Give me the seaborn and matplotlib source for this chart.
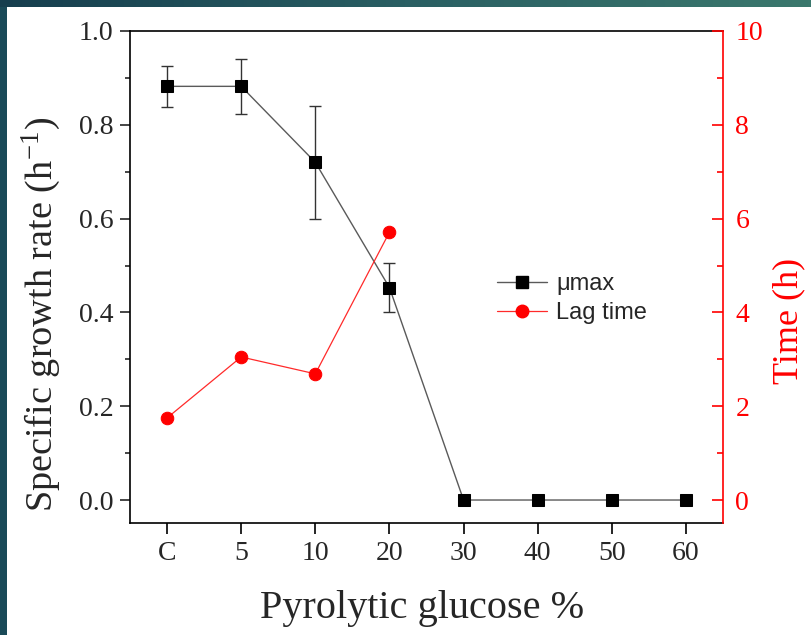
import numpy as np
import pandas as pd
import matplotlib
matplotlib.use("Agg")
import matplotlib.pyplot as plt
import seaborn as sns
from matplotlib.lines import Line2D
from matplotlib.colors import LinearSegmentedColormap

# ---- data ----
categories = ["C", "5", "10", "20", "30", "40", "50", "60"]
mu_max = [0.882, 0.882, 0.720, 0.453, 0.0, 0.0, 0.0, 0.0]
mu_err = [0.043, 0.059, 0.121, 0.053, 0.0, 0.0, 0.0, 0.0]
lag_categories = ["C", "5", "10", "20"]
lag_time = [1.75, 3.05, 2.69, 5.71]
left_ticks = [0.0, 0.2, 0.4, 0.6, 0.8, 1.0]
right_ticks = [0, 2, 4, 6, 8, 10]

sns.set_style("ticks")
plt.rcParams['font.family'] = ['Liberation Serif', 'DejaVu Serif']
plt.rcParams['mathtext.fontset'] = 'stix'

W, H = 811, 635
fig = plt.figure(figsize=(W / 100, H / 100), dpi=100)
fig.patch.set_facecolor("white")

# decorative frame strips
cmap = LinearSegmentedColormap.from_list("teal", ["#163e4e", "#2a5f63", "#3b786d"])
top = fig.add_axes([0, 1 - 7 / H, 1, 7 / H])
top.imshow(np.linspace(0, 1, 256)[None, :], aspect="auto", cmap=cmap)
top.set_axis_off()
left = fig.add_axes([0, 0, 7 / W, 1 - 7 / H])
left.set_facecolor("#1a4a58")
left.set_xticks([]); left.set_yticks([])
for s in left.spines.values():
    s.set_visible(False)

ax = fig.add_axes([130 / W, 1 - 523 / H, 593 / W, 492 / H])
ax2 = ax.twinx()

pos = list(range(len(categories)))
df_mu = pd.DataFrame({"pos": pos, "mu": mu_max, "err": mu_err})
df_lag = pd.DataFrame({"pos": list(range(len(lag_categories))), "lag": lag_time})

e = df_mu[df_mu.err > 0]
ax.errorbar(e.pos, e.mu, yerr=e.err, fmt="none", ecolor="#333333",
            elinewidth=1.0, capsize=4, capthick=1.0, zorder=2)
sns.lineplot(data=df_mu, x="pos", y="mu", ax=ax, color="#5a5a5a", linewidth=1.0,
             marker="s", markersize=8, markerfacecolor="black",
             markeredgecolor="black", zorder=3)
sns.lineplot(data=df_lag, x="pos", y="lag", ax=ax2, color="#ff2a2a", linewidth=0.9,
             marker="o", markersize=9, markerfacecolor="#ff0000",
             markeredgecolor="#ff0000", zorder=3)

ax.set_xlim(-0.5, 7.5)
ax.set_ylim(-0.049, 1.0)
ax2.set_ylim(-0.49, 10)
ax.set_xticks(pos)
ax.set_xticklabels(categories)
ax.set_yticks(left_ticks)
ax.set_yticklabels([f"{v:.1f}" for v in left_ticks])
ax.set_yticks([0.1, 0.3, 0.5, 0.7, 0.9], minor=True)
ax2.set_yticks(right_ticks)
ax2.set_yticklabels([str(v) for v in right_ticks])
ax2.set_yticks([1, 3, 5, 7, 9], minor=True)

lw = 1.2
for s in ["left", "bottom", "top"]:
    ax.spines[s].set_linewidth(lw)
    ax.spines[s].set_color("black")
ax.spines["right"].set_visible(False)
for s in ["left", "bottom", "top"]:
    ax2.spines[s].set_visible(False)
ax2.spines["right"].set_color("red")
ax2.spines["right"].set_linewidth(lw)

ax.tick_params(axis="x", which="major", direction="out", length=8, width=lw,
               labelsize=20, pad=5, color="black")
ax.tick_params(axis="y", which="major", direction="out", length=7, width=lw,
               labelsize=20, pad=5)
ax.tick_params(axis="y", which="minor", direction="out", length=3.5, width=lw)
ax2.tick_params(axis="y", which="major", direction="in", length=8, width=lw,
                labelsize=20, pad=9, color="red", labelcolor="red")
ax2.tick_params(axis="y", which="minor", direction="in", length=4.5, width=lw,
                color="red")

ax.set_xlabel("Pyrolytic glucose %", fontsize=29)
ax.set_ylabel("Specific growth rate (h$^{\\mathregular{-1}}$)", fontsize=27.5)
ax2.set_ylabel("Time (h)", fontsize=26, color="red")
ax.xaxis.set_label_coords(0.492, -0.136)
ax.yaxis.set_label_coords(-0.113, 0.425)
ax2.yaxis.set_label_coords(1.083, 0.41)

handles = [
    Line2D([], [], color="#5a5a5a", lw=1.0, marker="s", markersize=8,
           markerfacecolor="black", markeredgecolor="black"),
    Line2D([], [], color="#ff2a2a", lw=0.9, marker="o", markersize=9,
           markerfacecolor="#ff0000", markeredgecolor="#ff0000"),
]
fig.legend(handles, ["μmax", "Lag time"], loc="upper left",
           bbox_to_anchor=(497 / W, 1 - 273 / H), bbox_transform=fig.transFigure,
           frameon=False, borderpad=0, borderaxespad=0, handlelength=2.1,
           handletextpad=0.42, labelspacing=0.3,
           prop={"family": "Liberation Sans", "size": 17})

fig.savefig("out.png", dpi=100, facecolor="white")
